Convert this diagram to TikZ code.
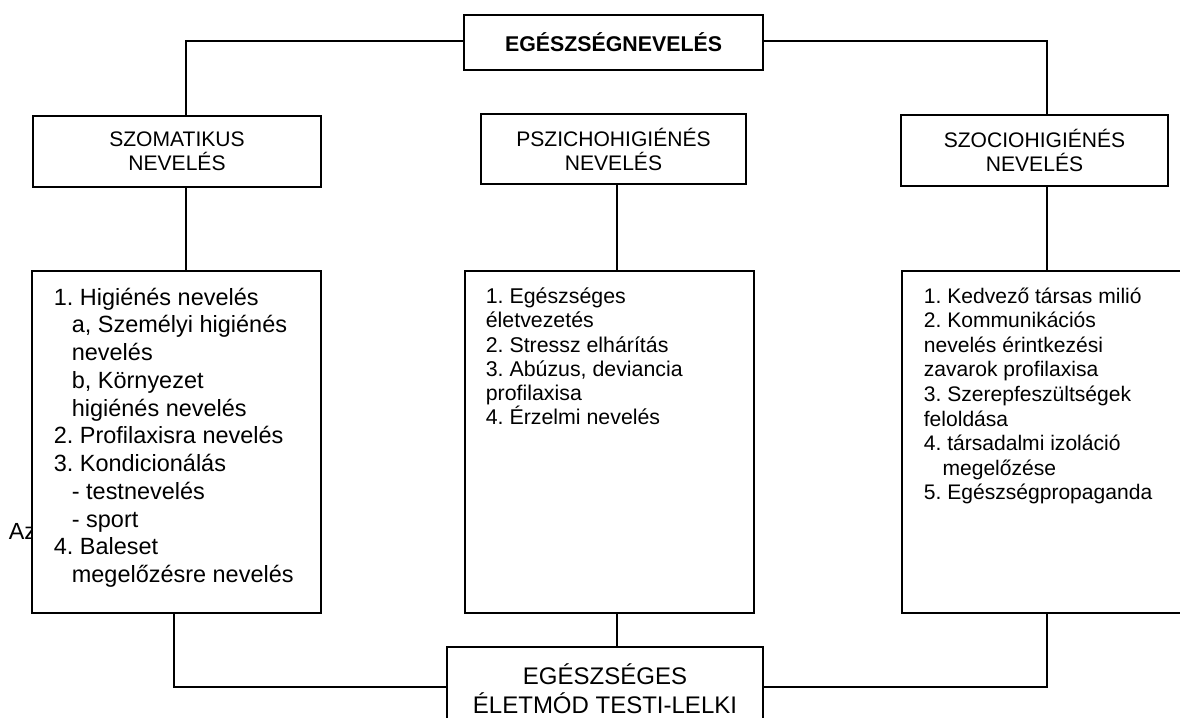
\documentclass[tikz,border=0pt]{standalone}
\usepackage{fontspec}
\setmainfont{Liberation Sans}
\frenchspacing

\tikzset{every picture/.style={line width=1.3pt}}
\tikzset{
  headbox/.style={draw, fill=white, inner sep=0pt, align=center, font=\fontsize{15.8}{18}\selectfont},
  listbox/.style={draw, fill=white, inner sep=0pt},
  listtext/.style={anchor=north west, inner sep=0pt, align=left}
}

\begin{document}
\begin{tikzpicture}[x=0.75pt,y=0.75pt,yscale=-1,xscale=1]
\useasboundingbox (0,0) rectangle (1180,717);

% Text Node (half hidden behind the first list)
\node (az) [anchor=west, inner sep=0pt, font=\fontsize{17.5}{20}\selectfont] at (8,531) {Az};

%Shape: Rectangle [top]
\node (top) [headbox, minimum width=224.25pt, minimum height=41.25pt, font=\bfseries\fontsize{16}{18}\selectfont] at (613.5,42.5) {EGÉSZSÉGNEVELÉS};
%Shape: Rectangle [row of three]
\node (szom) [headbox, minimum width=216pt, minimum height=53.25pt] at (177,151.5) {SZOMATIKUS\\NEVELÉS};
\node (psz) [headbox, minimum width=198.75pt, minimum height=52.5pt] at (613.5,149) {PSZICHOHIGIÉNÉS\\NEVELÉS};
\node (szoc) [headbox, minimum width=200.25pt, minimum height=53.25pt] at (1034.5,150.5) {SZOCIOHIGIÉNÉS\\NEVELÉS};

%Shape: Rectangle [lists]
\node (list1) [listbox, minimum width=216.75pt, minimum height=256.5pt] at (176.5,442) {};
\node (list2) [listbox, minimum width=216.75pt, minimum height=256.5pt] at (609.5,442) {};
\node (list3) [listbox, minimum width=216pt, minimum height=256.5pt] at (1046,442) {};

%Shape: Rectangle [bottom]
\node (bot) [listbox, minimum width=237pt, minimum height=107.25pt] at (605,718.5) {};

% junction points of the connectors
\coordinate (jl) at (186,41);
\coordinate (jr) at (1047,41);
\coordinate (jm) at (617,0);
\coordinate (jbl) at (174,687);
\coordinate (jbr) at (1047,687);

%Straight Lines
\draw (top.west |- jl) -- (jl) -- (jl |- szom.north);
\draw (top.east |- jr) -- (jr) -- (jr |- szoc.north);
\draw (jl |- szom.south) -- (jl |- list1.north);
\draw (jm |- psz.south) -- (jm |- list2.north);
\draw (jr |- szoc.south) -- (jr |- list3.north);
\draw (jbl |- list1.south) -- (jbl) -- (jbl -| bot.west);
\draw (jm |- list2.south) -- (jm |- bot.north);
\draw (jbr |- list3.south) -- (jbr) -- (jbr -| bot.east);

% Text Node
\node (t1) [listtext, font=\fontsize{17.6}{20.8}\selectfont] at (53,287) {1. Higiénés nevelés\\
\hspace*{13.5pt}a, Személyi higiénés\\
\hspace*{13.5pt}nevelés\\
\hspace*{13.5pt}b, Környezet\\
\hspace*{13.5pt}higiénés nevelés\\
2. Profilaxisra nevelés\\
3. Kondicionálás\\
\hspace*{13.5pt}- testnevelés\\
\hspace*{13.5pt}- sport\\
4. Baleset\\
\hspace*{13.5pt}megelőzésre nevelés};
% Text Node
\node (t2) [listtext, font=\fontsize{16}{18.2}\selectfont] at (485,287) {1. Egészséges\\
életvezetés\\
2. Stressz elhárítás\\
3. Abúzus, deviancia\\
profilaxisa\\
4. Érzelmi nevelés};
% Text Node
\node (t3) [listtext, font=\fontsize{15.8}{18.4}\selectfont] at (923,287) {1. Kedvező társas milió\\
2. Kommunikációs\\
nevelés érintkezési\\
zavarok profilaxisa\\
3. Szerepfeszültségek\\
feloldása\\
4. társadalmi izoláció\\
\hspace*{14pt}megelőzése\\
5. Egészségpropaganda};
% Text Node
\node (t4) [anchor=north, inner sep=0pt, align=center, font=\fontsize{18}{21.75}\selectfont] at (605,663) {EGÉSZSÉGES\\ÉLETMÓD TESTI-LELKI\\FEJLŐDÉS};

\end{tikzpicture}
\end{document}
